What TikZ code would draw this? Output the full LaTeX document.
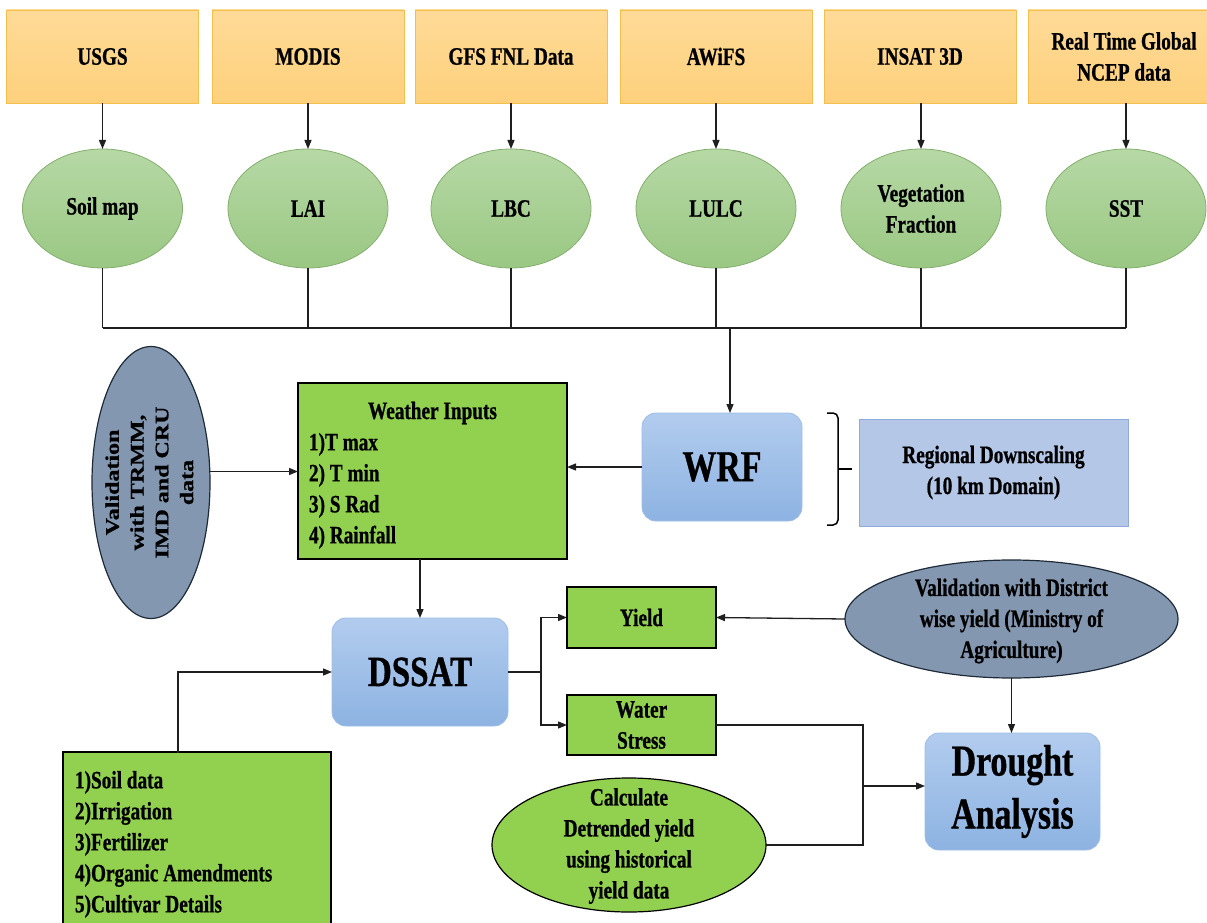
\documentclass[tikz,border=0pt]{standalone}
\usepackage{fontspec}
\setmainfont{Liberation Serif}[FakeStretch=0.77, BoldFeatures={FakeBold=0.8}]
\newfontfamily\rotfont{Liberation Serif}[BoldFeatures={FakeBold=0.8}]
\usetikzlibrary{shapes.geometric,arrows.meta,calc}
\definecolor{orT}{HTML}{FFDB98}
\definecolor{orB}{HTML}{FDD07C}
\definecolor{orD}{HTML}{F3C04F}
\definecolor{grT}{HTML}{B6D8A5}
\definecolor{grB}{HTML}{9AC883}
\definecolor{grD}{HTML}{84AE6E}
\definecolor{lime1}{HTML}{92D050}
\definecolor{blT}{HTML}{B2CCEE}
\definecolor{blB}{HTML}{8DB3E2}
\definecolor{blD}{HTML}{9FBDE6}
\definecolor{regF}{HTML}{B4C7E7}
\definecolor{regD}{HTML}{8FAADC}
\definecolor{slate}{HTML}{8497B0}
\definecolor{slateD}{HTML}{1E2A38}
\begin{document}
\begin{tikzpicture}[x=1pt,y=-1pt,
 every node/.style={font=\fontsize{25}{31}\selectfont\bfseries, inner sep=0pt, outer sep=0pt},
 src/.style={rectangle, draw=orD, line width=0.8pt, top color=orT, bottom color=orB, minimum width=192pt, minimum height=93pt, align=center},
 lell/.style={ellipse, draw=grD, line width=0.8pt, top color=grT, bottom color=grB, minimum width=160pt, minimum height=119pt, align=center},
 gbox/.style={rectangle, draw=black, line width=1.4pt, fill=lime1, align=center},
 bbox/.style={rectangle, rounded corners=14pt, draw=blD, line width=0.8pt, top color=blT, bottom color=blB, align=center},
 sell/.style={ellipse, draw=slateD, line width=1.2pt, fill=slate},
 gell/.style={ellipse, draw=black, line width=1.2pt, fill=lime1},
 txt/.style={align=center},
 ltxt/.style={align=left, anchor=north west},
 cn/.style={line width=1.3pt, draw=black!88},
 arr/.style={cn, -{Triangle[length=9pt,width=7pt]}}]
\useasboundingbox (0,0) rectangle (1207,923);

% top sources
\node[src] (usgs)  at (102.5,56.5) {USGS};
\node[src] (modis) at (308,56.5) {MODIS};
\node[src] (gfs)   at (511,56.5) {GFS FNL Data};
\node[src] (awifs) at (716,56.5) {AWiFS};
\node[src] (insat) at (920,56.5) {INSAT 3D};
\node[src] (rtg)   at (1124,56.5) {Real Time Global\\NCEP data};

% products
\node[lell] (soil) at (102.5,208.5) {Soil map};
\node[lell] (lai)  at (308,208.5) {LAI};
\node[lell] (lbc)  at (511,208.5) {LBC};
\node[lell] (lulc) at (716,208.5) {LULC};
\node[lell] (veg)  at (921,208.5) {Vegetation\\Fraction};
\node[lell] (sst)  at (1126,208.5) {SST};

\draw[arr] (usgs.south -| soil.north) -- (soil.north);
\draw[arr] (modis.south -| lai.north) -- (lai.north);
\draw[arr] (gfs.south -| lbc.north) -- (lbc.north);
\draw[arr] (awifs.south -| lulc.north) -- (lulc.north);
\draw[arr] (insat.south -| veg.north) -- (veg.north);
\draw[arr] (rtg.south -| sst.north) -- (sst.north);

% bus
\coordinate (busL) at (102.5,328);
\coordinate (busR) at (1126,328);
\coordinate (busW) at (730,328);
\foreach \e in {soil,lai,lbc,lulc,veg,sst}{\draw[cn] (\e.south) -- (\e.south |- busL);}
\draw[cn] (busL) -- (busR);

% WRF row
\node[bbox, minimum width=160pt, minimum height=108pt, font=\fontsize{44}{50}\selectfont\bfseries] (wrf) at (722,467) {WRF};
\draw[arr] (busW) -- (busW |- wrf.north);

\node[rectangle, draw=regD, line width=0.8pt, fill=regF, minimum width=269pt, minimum height=107pt, align=center] (reg) at (993.5,472.5) {Regional Downscaling\\(10 km Domain)};
\coordinate (brT) at (827,413);
\coordinate (brB) at (827,525);
\coordinate (brS) at (838,469);
\coordinate (brM) at (852,469);
\draw[line width=1.5pt, draw=black, rounded corners=5pt] (brT) -- (838,413) -- (838,525) -- (brB);
\draw[line width=1.5pt, draw=black] (brS) -- (brM);

\node[gbox, minimum width=269pt, minimum height=176pt] (wi) at (432.5,471) {};
\node[anchor=base] (wit) at (432.5,419) {Weather Inputs};
\node[ltxt] (wil) at (309,433) {1)T max\\2) T min\\3) S Rad\\4) Rainfall};
\draw[arr] (wrf.west) -- (wrf.west -| wi.east);

\node[sell, minimum width=118pt, minimum height=272pt] (val) at (151,482.5) {};
\node[rotate=90] (valt) at (val.center) {\scalebox{1}[0.8]{\rotfont\bfseries\fontsize{24}{31}\selectfont\begin{tabular}{@{}c@{}}Validation\\with TRMM,\\IMD and CRU\\data\end{tabular}}};
\coordinate (va) at ([yshift=11pt]val.east);
\draw[arr] (va) -- (va -| wi.west);

% DSSAT
\node[bbox, minimum width=176pt, minimum height=108pt, font=\fontsize{43}{50}\selectfont\bfseries] (dssat) at (420,672) {DSSAT};
\draw[arr] (wi.south -| dssat.north) -- (dssat.north);

\node[gbox, minimum width=268pt, minimum height=188pt] (inp) at (197,846) {};
\node[ltxt] (inpt) at (75,771) {1)Soil data\\2)Irrigation\\3)Fertilizer\\4)Organic Amendments\\5)Cultivar Details};
\coordinate (ia) at (178,753);
\draw[arr] (ia) |- (dssat.west);

\node[gbox, minimum width=149pt, minimum height=61pt] (yield) at (641.5,617.5) {Yield};
\node[gbox, minimum width=149pt, minimum height=60pt] (water) at (641.5,725) {Water\\Stress};
\draw[cn] (dssat.east) -- ++(33,0) coordinate (dj);
\draw[arr] (dj) |- (yield.west);
\draw[arr] (dj) |- (water.west);

\node[sell, minimum width=333pt, minimum height=118pt] (dist) at (1011.5,619) {};
\node[txt] (distt) at (1011.5,621) {Validation with District\\wise yield (Ministry of\\Agriculture)};
\draw[arr] (dist.west) -- (yield.east);

\node[bbox, minimum width=175pt, minimum height=117pt, font=\fontsize{44}{53}\selectfont\bfseries] (drought) at (1012.5,791.5) {Drought\\Analysis};
\draw[arr] (dist.south) -- (dist.south |- drought.north);

\node[gell, minimum width=274pt, minimum height=134pt] (calc) at (629,845) {};
\node[txt] (calct) at (629,846) {Calculate\\Detrended yield\\using historical\\yield data};

\coordinate (mj) at (863,786);
\draw[cn] (water.east) -| (mj);
\draw[cn] (calc.east) -| (mj);
\draw[arr] (mj) -- (mj -| drought.west);
\end{tikzpicture}
\end{document}
